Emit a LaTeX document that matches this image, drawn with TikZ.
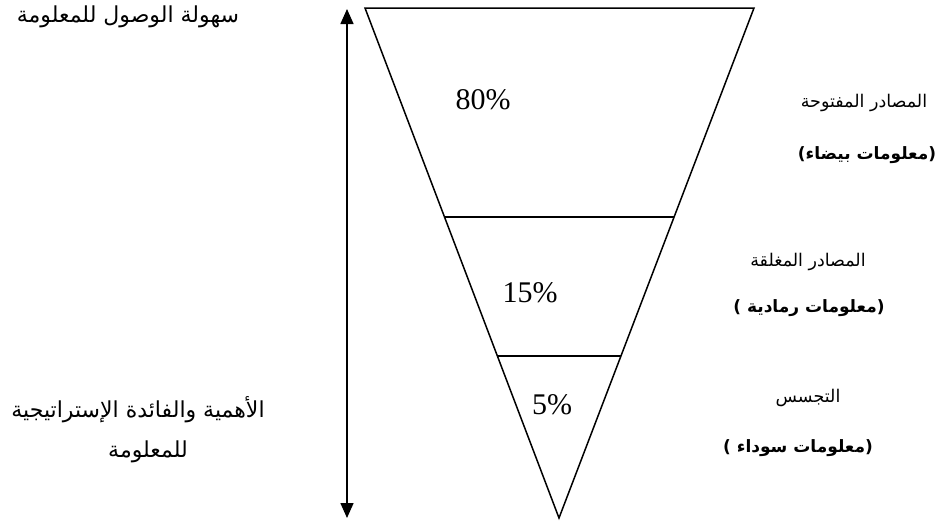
\documentclass[tikz,border=0pt]{standalone}
\usepackage{fontspec}
\setmainfont{Liberation Serif}
\newfontfamily\arabicfont[Script=Arabic]{DejaVu Sans}
\TeXXeTstate=1
\usetikzlibrary{arrows.meta,calc}
\tikzset{bigtri/.tip={Triangle[length=15pt,width=13pt]}}
\begin{document}
\begin{tikzpicture}[x=1pt,y=-1pt,
  edge/.style={line width=1.5pt,line join=miter},
  pct/.style={font=\fontsize{30}{34}\selectfont,inner sep=0pt},
  arleft/.style={font=\arabicfont\fontsize{22}{26}\selectfont,inner sep=0pt},
  arright/.style={font=\arabicfont\fontsize{17.5}{21}\selectfont,inner sep=0pt},
  arbold/.style={font=\arabicfont\bfseries\fontsize{17}{20}\selectfont,inner sep=0pt}]
\useasboundingbox (0,0) rectangle (945,525);
% funnel
\coordinate (TL) at (365,8);
\coordinate (TR) at (754,8);
\coordinate (B) at (559,518);
\coordinate (L1) at ($(TL)!0.41!(B)$);
\coordinate (R1) at ($(TR)!0.41!(B)$);
\coordinate (L2) at ($(TL)!0.682!(B)$);
\coordinate (R2) at ($(TR)!0.682!(B)$);
\draw[edge] (TL) -- (TR) -- (B) -- cycle;
\draw[edge] (L1) -- (R1);
\draw[edge] (L2) -- (R2);
% arrow
\coordinate (AT) at (347,9);
\coordinate (AB) at (347,518);
\draw[edge,bigtri-bigtri] (AT) -- (AB);
% percentages
\node[pct] (p80) at (483,100) {80\%};
\node[pct] (p15) at (530,293) {15\%};
\node[pct] (p5) at (552,405) {5\%};
% left labels
\node[arleft] (ease) at (128,17) {\beginR سهولة الوصول للمعلومة\endR};
\node[arleft] (imp1) at (138,410) {\beginR الأهمية والفائدة الإستراتيجية\endR};
\node[arleft] (imp2) at (148,452) {\beginR للمعلومة\endR};
% right labels
\node[arright] (open) at (864,103) {\beginR المصادر المفتوحة\endR};
\node[arbold] (white) at (867,155) {\beginR (معلومات بيضاء)\endR};
\node[arright] (closed) at (808,262) {\beginR المصادر المغلقة\endR};
\node[arbold] (grey) at (809,308) {\beginR (معلومات رمادية )\endR};
\node[arright] (spy) at (808,398) {\beginR التجسس\endR};
\node[arbold] (black) at (798,448) {\beginR (معلومات سوداء )\endR};
\end{tikzpicture}
\end{document}
